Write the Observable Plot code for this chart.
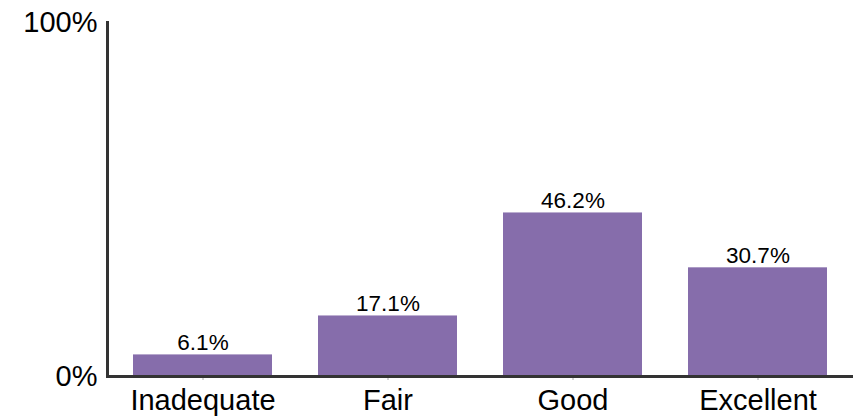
<!DOCTYPE html>
<html>
<head>
<meta charset="utf-8">
<script src="https://cdn.jsdelivr.net/npm/d3@7"></script>
<script src="https://cdn.jsdelivr.net/npm/@observablehq/plot@0.6"></script>
<style>
  html, body { margin: 0; padding: 0; background: #fff; }
  #chart svg { display: block; }
</style>
</head>
<body>
<div id="chart"></div>
<script>
const categories = ["Inadequate", "Fair", "Good", "Excellent"];
const values = [6.1, 17.1, 46.2, 30.7];
const yTicks = [0, 100];

const data = categories.map((c, i) => ({category: c, value: values[i]}));
const font = "'Liberation Sans', Arial, sans-serif";

const chart = Plot.plot({
  width: 861,
  height: 418,
  marginTop: 22,
  marginBottom: 42,
  marginLeft: 107,
  marginRight: 8,
  style: {fontFamily: font, color: "#000", background: "#fff"},
  x: {type: "band", domain: categories, paddingInner: 0.25, paddingOuter: 0.14, label: null},
  y: {domain: [0, 100], label: null},
  marks: [
    Plot.barY(data, {x: "category", y: "value", fill: "#866dab"}),
    Plot.text(data, {x: "category", y: "value", text: d => d.value.toFixed(1) + "%", lineAnchor: "bottom", dy: -5, fontSize: 22.5, fill: "#000"}),
    Plot.axisX({tickSize: 4, tickPadding: 9, fontSize: 29, stroke: "#aaa", fill: "#000"}),
    Plot.axisY({ticks: yTicks, tickSize: 0, tickPadding: 10, fontSize: 29, tickFormat: d => d + "%", fill: "#000"}),
    Plot.frame({anchor: "left", stroke: "#333", strokeWidth: 3}),
    Plot.ruleY([0], {stroke: "#333", strokeWidth: 3})
  ]
});
document.getElementById("chart").appendChild(chart);
</script>
</body>
</html>
